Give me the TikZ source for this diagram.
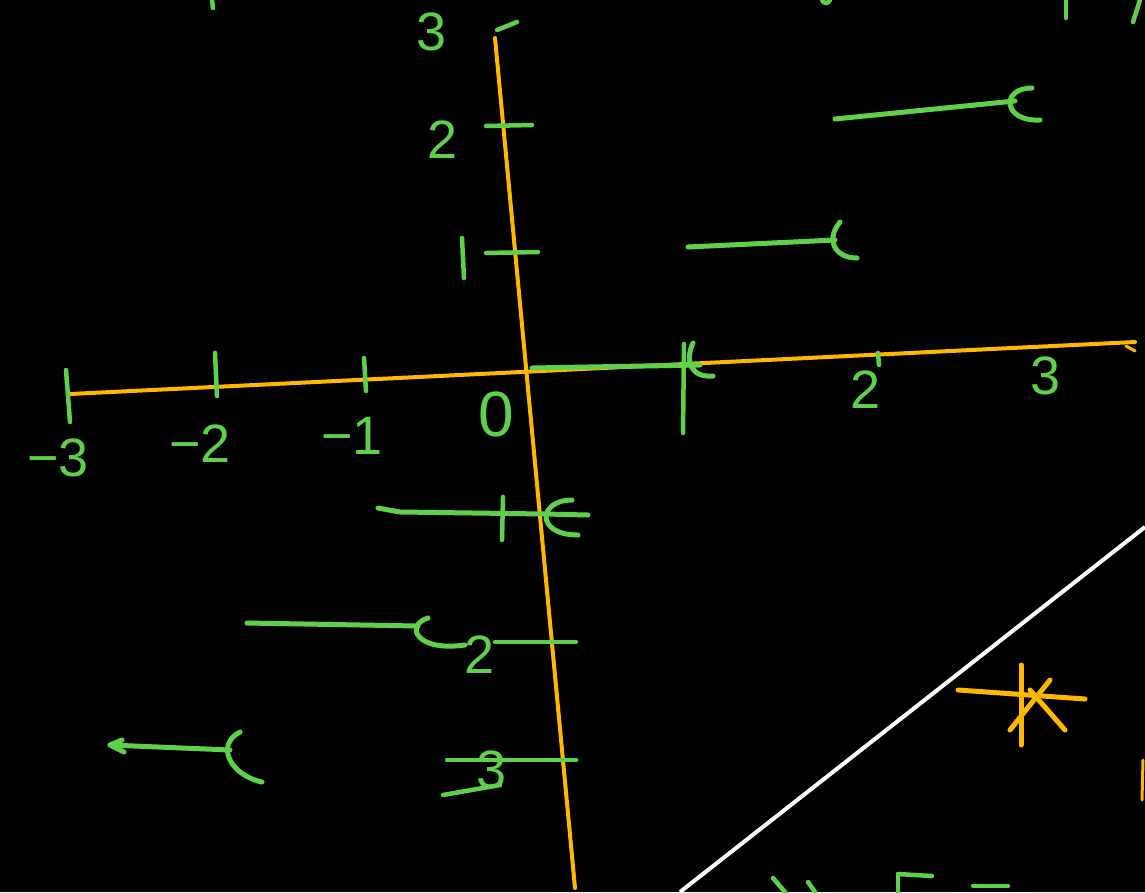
\documentclass[tikz,border=0pt]{standalone}
\usepackage{fontspec}
\setmainfont{Liberation Sans}
\definecolor{axis}{RGB}{255,184,0}
\definecolor{pen}{RGB}{94,208,76}
\tikzset{
  axisline/.style={draw=axis,line width=4pt,line cap=round},
  greenstroke/.style={draw=pen,line width=5pt,line cap=round,line join=round},
  tickmark/.style={draw=pen,line width=4.5pt,line cap=round},
  lbl/.style={text=pen,font=\fontsize{54}{56}\selectfont,inner sep=0pt},
  whiteline/.style={draw=white,line width=4pt}
}
\begin{document}
\begin{tikzpicture}[x=1pt,y=-1pt]
\fill[black] (0,0) rectangle (1145,892);
\useasboundingbox (0,0) rectangle (1145,892);

% axes
\coordinate (xl) at (70,394);
\coordinate (xr) at (1135,342);
\coordinate (yt) at (495,38);
\coordinate (yb) at (575,888);
\draw[axisline] (xl) -- (xr);
\draw[axisline] (yt) -- (yb);
\draw[axisline,line width=3pt] (1126,346) -- (1135,351);

% x ticks
\draw[tickmark] (66,370) -- (70,422);
\draw[tickmark] (215,353) -- (217,396);
\draw[tickmark] (364,358) -- (366,391);
\draw[tickmark] (684,344) -- (683,433);
\draw[tickmark] (878,353) -- (879,365);

% x labels
\node[lbl] (m3) at (58,458) {−3};
\node[lbl] (m2) at (200,444) {−2};
\node[lbl] (m1) at (352,436) {−1};
\node[lbl,font=\fontsize{64}{66}\selectfont] (z) at (496,414) {0};
\node[lbl] (p2) at (866,390) {2};
\node[lbl] (p3) at (1046,376) {3};

% y ticks and labels
\draw[tickmark] (497,30) -- (517,22);
\node[lbl] (y3) at (432,32) {3};
\draw[tickmark] (486,126) -- (532,125);
\node[lbl] (y2) at (443,140) {2};
\draw[tickmark] (486,253) -- (538,252);
\draw[tickmark] (462,238) -- (464,278);
\draw[tickmark] (503,497) -- (502,540);
\draw[tickmark] (495,642) -- (576,642);
\node[lbl] (ym2) at (480,655) {2};
\draw[tickmark] (447,760) -- (576,760);
\node[lbl] (ym3) at (492,770) {3};
\draw[tickmark] (443,795) -- (500,785);

% step segments
\draw[greenstroke] (532,368) -- (700,365);
\draw[greenstroke] (693,343) .. controls (685,360) and (690,378) .. (713,376);
\draw[greenstroke] (688,247) -- (835,240);
\draw[greenstroke] (840,222) .. controls (825,240) and (835,258) .. (857,258);
\draw[greenstroke] (835,119) -- (1015,101);
\draw[greenstroke] (1032,88) .. controls (1000,88) and (1003,122) .. (1040,120);
\draw[greenstroke] (378,508) -- (400,512) -- (545,514) -- (588,515);
\draw[greenstroke] (572,500) .. controls (538,500) and (535,535) .. (578,535);
\draw[greenstroke] (247,623) -- (418,626);
\draw[greenstroke] (428,618) .. controls (405,625) and (415,652) .. (465,645);
\draw[greenstroke] (110,745) -- (230,750);
\draw[greenstroke] (122,740) -- (110,745) -- (124,752);
\draw[greenstroke] (240,732) .. controls (215,745) and (230,775) .. (262,782);

% white line
\coordinate (w1) at (680,892);
\coordinate (w2) at (1145,527);
\draw[whiteline] (w1) -- (w2);

% orange star
\draw[axisline,line width=5pt] (958,690) -- (1085,699);
\draw[axisline,line width=5pt] (1021,665) -- (1021,745);
\draw[axisline,line width=5pt] (1010,730) -- (1050,680);
\draw[axisline,line width=5pt] (1030,690) -- (1065,730);
\draw[axisline,line width=3pt] (1143,760) -- (1142,800);

% partial marks at the edges
\draw[tickmark] (212,0) -- (213,8);
\draw[tickmark] (822,0) .. controls (824,4) and (828,4) .. (830,0);
\draw[tickmark] (1066,0) -- (1066,18);
\draw[tickmark] (1140,0) -- (1133,22);
\draw[tickmark] (773,878) -- (785,892);
\draw[tickmark] (808,882) -- (815,892);
\draw[tickmark] (898,875) -- (898,892);
\draw[tickmark] (898,874) -- (932,876);
\draw[tickmark] (973,886) -- (1008,886);
\end{tikzpicture}
\end{document}
